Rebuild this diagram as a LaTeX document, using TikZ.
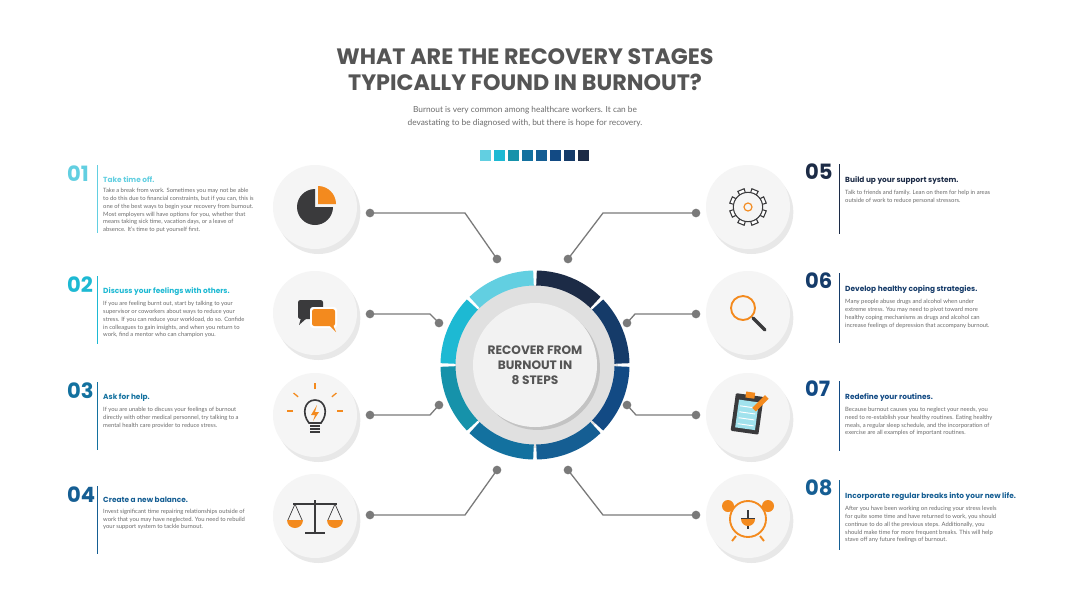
\documentclass[tikz,border=0pt]{standalone}
\usepackage{fontspec}
\setmainfont{Lato}
\newfontfamily\headfont{Poppins}
\usetikzlibrary{shadows,positioning}
\definecolor{stepA}{HTML}{62CFE1}
\definecolor{stepB}{HTML}{1DB9D3}
\definecolor{stepC}{HTML}{1692AA}
\definecolor{stepD}{HTML}{13719F}
\definecolor{stepE}{HTML}{155E93}
\definecolor{stepF}{HTML}{124A84}
\definecolor{stepG}{HTML}{153B69}
\definecolor{stepH}{HTML}{1C2B46}
\definecolor{iconOrange}{HTML}{F38A1E}
\definecolor{iconDark}{HTML}{3A3A3C}
\definecolor{linkGray}{HTML}{7A7A7A}
\definecolor{bodyGray}{HTML}{6B6B6B}
\definecolor{titleGray}{HTML}{555555}
\tikzset{
  iconball/.style={circle, minimum size=2.52cm, fill=black!4, draw=none,
                   drop shadow={shadow xshift=1mm, shadow yshift=-1.5mm, opacity=0.18}},
  link/.style={draw=linkGray, line width=1.1pt},
  dot/.style={circle, fill=linkGray, inner sep=0pt, minimum size=2.6mm},
  stepnum/.style={font=\headfont\bfseries\fontsize{18}{18}\selectfont, anchor=north west, inner sep=0pt},
  stephead/.style={font=\headfont\bfseries\fontsize{6.3}{8}\selectfont, anchor=north west, inner sep=0pt},
  stepbody/.style={font=\fontsize{5}{6.6}\selectfont, text=bodyGray, anchor=north west,
                   inner sep=0pt, align=left},
}
\begin{document}
\begin{tikzpicture}[x=0.03cm,y=-0.03cm]
  \useasboundingbox (0,0) rectangle (1080,606);
  \fill[white] (0,0) rectangle (1080,606);

  % Title
  \node (title) [font=\headfont\bfseries\fontsize{19}{22}\selectfont, text=titleGray, align=center]
        at (525,70) {WHAT ARE THE RECOVERY STAGES\\TYPICALLY FOUND IN BURNOUT?};
  \node (intro) [font=\fontsize{7.1}{11}\selectfont, text=bodyGray, align=center]
        at (525,117) {Burnout is very common among healthcare workers. It can be\\
        devastating to be diagnosed with, but there is hope for recovery.};
  \foreach \c [count=\i] in {stepA,stepB,stepC,stepD,stepE,stepF,stepG,stepH}
    \fill[\c] (466+14*\i,150) rectangle ++(11,11);

  % Center ring
  \node (hub) [circle, minimum size=4.8cm, fill=black!12, drop shadow={opacity=0.25}] at (535,365) {};
  \foreach \c [count=\i] in {stepA,stepB,stepC,stepD,stepE,stepF,stepG,stepH}
    \draw[\c, line width=0.45cm] ([shift={(90+45*\i-44:2.61cm)}]hub.center)
      arc[start angle=90+45*\i-44, end angle=90+45*\i-1, radius=2.61cm];
  \node (core) [circle, minimum size=3.72cm, fill=black!5, drop shadow={opacity=0.3},
        font=\headfont\bfseries\fontsize{10.4}{13}\selectfont, text=titleGray, align=center]
        at (hub) {RECOVER FROM\\BURNOUT IN\\8 STEPS};

  % Icon balls
  \foreach \n/\x/\y in {one/315/207, two/315/313, three/315/415, four/315/516,
                        five/748/207, six/748/313, seven/748/415, eight/748/516}
    \node (\n) [iconball] at (\x,\y) {};

  % Connectors
  \foreach \n/\ax/\ay/\bx/\by/\cx/\cy in {
      one/370/213/465/213/497/259, two/370/314/430/314/439/323,
      three/370/415/430/415/439/405, four/370/515/465/515/497/470,
      five/696/213/603/213/568/259, six/696/314/635/314/627/323,
      seven/696/415/636/415/627/405, eight/696/515/603/515/568/470} {
    \coordinate (\n-a) at (\ax,\ay);
    \coordinate (\n-b) at (\bx,\by);
    \coordinate (\n-c) at (\cx,\cy);
    \draw[link] (\n-a) -- (\n-b) -- (\n-c);
    \node[dot] at (\n-a) {};
    \node[dot] at (\n-c) {};
  }

  % Icons
  \begin{scope}[shift={(one)}]
    \fill[iconDark] (0,0) -- (0,-18) arc[start angle=90, end angle=360, radius=0.54cm] -- cycle;
    \fill[iconOrange] (3,-3) -- (3,-21) arc[start angle=90, end angle=0, radius=0.54cm] -- cycle;
  \end{scope}
  \begin{scope}[shift={(two)}]
    \fill[iconDark, rounded corners=2pt] (-17,-13) rectangle (8,6);
    \fill[iconDark] (-14,5) -- (-16,12) -- (-8,5) -- cycle;
    \fill[white, rounded corners=2.5pt] (-5,-6) rectangle (22,15);
    \fill[iconOrange, rounded corners=2pt] (-3,-4) rectangle (20,13);
    \fill[iconOrange] (14,12) -- (21,19) -- (18,12) -- cycle;
  \end{scope}
  \begin{scope}[shift={(three)}]
    \draw[iconDark, line width=1.4pt] (-6,8) .. controls (-14,-2) and (-10,-15) .. (0,-15)
      .. controls (10,-15) and (14,-2) .. (6,8) -- cycle;
    \foreach \yy in {11,14,17} \draw[iconDark, line width=1.6pt] (-5,\yy) -- (5,\yy);
    \fill[iconOrange] (2,-10) -- (-4,0) -- (0,0) -- (-2,6) -- (4,-3) -- (0,-3) -- cycle;
    \foreach \a in {0,40,90,140,180}
      \draw[iconOrange, line width=1.1pt] ([shift={(\a:0.66cm)}]0,-4) -- ([shift={(\a:0.84cm)}]0,-4);
  \end{scope}
  \begin{scope}[shift={(four)}]
    \draw[iconDark, line width=1.6pt] (0,-16) -- (0,16) (-10,17) -- (10,17) (-22,-12) -- (22,-12);
    \foreach \s in {-1,1} {
      \draw[iconDark, line width=0.6pt] (\s*20,-12) -- (\s*27,4) (\s*20,-12) -- (\s*13,4);
      \fill[iconOrange] (\s*20+8,4) arc[start angle=0, end angle=-180, radius=0.24cm] -- cycle;
    }
  \end{scope}
  \begin{scope}[shift={(five)}]
    \draw[iconDark, line width=0.9pt, fill=white]
      \foreach \a in {0,45,...,315} { ([shift={(\a+10:0.42cm)}]0,0) -- ([shift={(\a+12:0.56cm)}]0,0)
        -- ([shift={(\a+33:0.56cm)}]0,0) -- ([shift={(\a+35:0.42cm)}]0,0) };
    \draw[iconDark, line width=0.9pt, fill=black!4] (0,0) circle[radius=0.44cm];
    \draw[iconOrange, line width=1pt] (0,0) circle[radius=0.12cm];
  \end{scope}
  \begin{scope}[shift={(six)}]
    \draw[iconOrange, line width=1.6pt] (-5,-5) circle[radius=0.36cm];
    \draw[iconDark, line width=3pt, line cap=round] (5,5) -- (17,17);
  \end{scope}
  \begin{scope}[shift={(seven)}]
    \fill[iconDark, rounded corners=1pt, rotate=-8] (-15,-20) rectangle (13,18);
    \fill[stepA!60, rotate=-8] (-11,-14) rectangle (9,14);
    \foreach \yy in {-8,-2,4,10} \draw[white, line width=0.8pt, rotate=-8] (-9,\yy) -- (7,\yy);
    \fill[iconOrange, rotate=-8] (-5,-23) rectangle (4,-17);
    \fill[iconOrange, rotate=45] (8,-2) rectangle (26,3);
  \end{scope}
  \begin{scope}[shift={(eight)}]
    \draw[iconOrange, line width=1.6pt] (0,3) circle[radius=0.54cm];
    \fill[iconOrange] (-20,-10) circle[radius=0.18cm] (20,-10) circle[radius=0.18cm];
    \draw[iconOrange, line width=1.6pt] (-12,20) -- (-16,25) (12,20) -- (16,25);
    \draw[iconDark, line width=1pt] (-7,3) -- (7,3) (0,-6) -- (0,13);
    \fill[iconOrange] (-7,3) arc[start angle=180, end angle=360, radius=0.21cm] -- cycle;
  \end{scope}

  % Left texts
  \foreach \n/\y/\c/\h/\t in {
    01/166/stepA/Take time off./{Take a break from work. Sometimes you may not be able\\to do this due to financial constraints, but if you can, this is\\one of the best ways to begin your recovery from burnout.\\Most employers will have options for you, whether that\\means taking sick time, vacation days, or a leave of\\absence. It's time to put yourself first.},
    02/277/stepB/Discuss your feelings with others./{If you are feeling burnt out, start by talking to your\\supervisor or coworkers about ways to reduce your\\stress. If you can reduce your workload, do so. Confide\\in colleagues to gain insights, and when you return to\\work, find a mentor who can champion you.},
    03/383/stepD/Ask for help./{If you are unable to discuss your feelings of burnout\\directly with other medical personnel, try talking to a\\mental health care provider to reduce stress.},
    04/487/stepE/Create a new balance./{Invest significant time repairing relationships outside of\\work that you may have neglected. You need to rebuild\\your support system to tackle burnout.}} {
    \node (num\n) [stepnum, text=\c] at (67,\y) {\n};
    \draw[\c, line width=0.8pt] (97,\y-1) -- (97,\y+67);
    \node (head\n) [stephead, text=\c] at (103,\y+10) {\h};
    \node (body\n) [stepbody, below=5pt of head\n.south west, anchor=north west] {\t};
  }

  % Right texts
  \foreach \n/\y/\c/\h/\t in {
    05/164/stepH/Build up your support system./{Talk to friends and family. Lean on them for help in areas\\outside of work to reduce personal stressors.},
    06/273/stepG/Develop healthy coping strategies./{Many people abuse drugs and alcohol when under\\extreme stress. You may need to pivot toward more\\healthy coping mechanisms as drugs and alcohol can\\increase feelings of depression that accompany burnout.},
    07/381/stepF/Redefine your routines./{Because burnout causes you to neglect your needs, you\\need to re-establish your healthy routines. Eating healthy\\meals, a regular sleep schedule, and the incorporation of\\exercise are all examples of important routines.},
    08/480/stepE/Incorporate regular breaks into your new life./{After you have been working on reducing your stress levels\\for quite some time and have returned to work, you should\\continue to do all the previous steps. Additionally, you\\should make time for more frequent breaks. This will help\\stave off any future feelings of burnout.}} {
    \node (num\n) [stepnum, text=\c] at (805,\y) {\n};
    \draw[\c, line width=0.8pt] (839,\y) -- (839,\y+70);
    \node (head\n) [stephead, text=\c] at (845,\y+12) {\h};
    \node (body\n) [stepbody, below=5pt of head\n.south west, anchor=north west] {\t};
  }
\end{tikzpicture}
\end{document}
